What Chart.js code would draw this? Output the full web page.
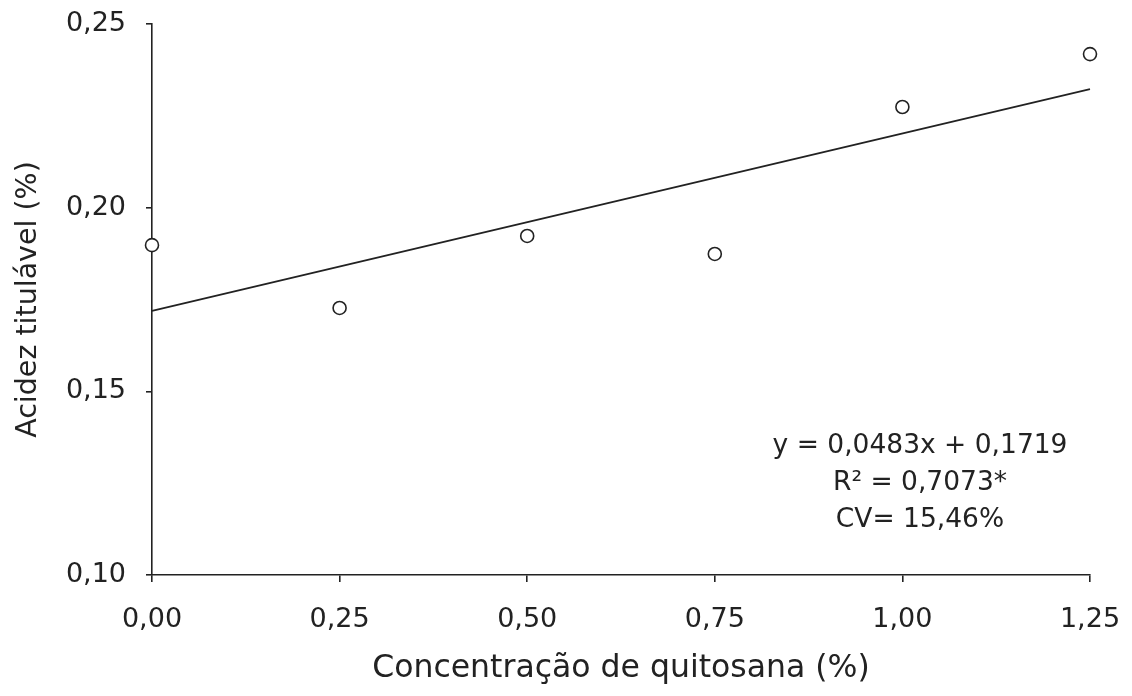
<!DOCTYPE html>
<html>
<head>
<meta charset="utf-8">
<script src="https://cdn.jsdelivr.net/npm/chart.js@4"></script>
<style>
  body { margin: 0; background: #fff; }
</style>
</head>
<body>
<canvas id="myChart" width="1132" height="696"></canvas>
<script>
  // doses de quitosana (%) e acidez titulavel observada (%)
  const concentracao = [0, 0.25, 0.5, 0.75, 1.0, 1.25];
  const acidez = [0.1898, 0.1727, 0.1923, 0.1874, 0.2274, 0.2418];

  // coeficientes da regressao linear
  const coefAngular = 0.0483;
  const intercepto = 0.1719;

  const textoEquacao = ['y = 0,0483x + 0,1719', 'R² = 0,7073*', 'CV= 15,46%'];

  const fonte = "'DejaVu Sans', sans-serif";

  // reta ajustada entre a menor e a maior dose
  const xMin = concentracao[0];
  const xMax = concentracao[concentracao.length - 1];
  const reta = [
    { x: xMin, y: coefAngular * xMin + intercepto },
    { x: xMax, y: coefAngular * xMax + intercepto }
  ];

  const pontos = concentracao.map((c, i) => ({ x: c, y: acidez[i] }));

  function virgula(v, casas) {
    return Number(v).toFixed(casas).replace('.', ',');
  }

  // escreve a equacao no canto inferior direito
  const equacaoPlugin = {
    id: 'equacao',
    afterDraw(chart) {
      const ctx = chart.ctx;
      ctx.save();
      ctx.fillStyle = '#222';
      ctx.font = '26.5px ' + fonte;
      ctx.textAlign = 'center';
      ctx.textBaseline = 'middle';
      textoEquacao.forEach((linha, i) => {
        ctx.fillText(linha, 920, 446 + i * 37);
      });
      ctx.restore();
    }
  };

  const ctx = document.getElementById('myChart').getContext('2d');
  const chart = new Chart(ctx, {
    type: 'scatter',
    data: {
      datasets: [
        {
          label: 'Observado',
          data: pontos,
          clip: false,
          pointStyle: 'circle',
          pointRadius: 6.5,
          pointBorderWidth: 1.6,
          pointBackgroundColor: '#fff',
          pointBorderColor: '#222'
        },
        {
          label: 'Ajuste',
          type: 'line',
          data: reta,
          clip: false,
          borderColor: '#222',
          borderWidth: 1.7,
          pointRadius: 0,
          fill: false
        }
      ]
    },
    options: {
      responsive: false,
      animation: false,
      layout: { padding: { top: 24, right: 42, left: 0, bottom: 0 } },
      plugins: {
        legend: { display: false },
        tooltip: { enabled: false }
      },
      scales: {
        x: {
          type: 'linear',
          min: 0,
          max: 1.25,
          afterFit(scale) {
            scale.height = 121;
            scale.paddingLeft = 0;
            scale.paddingRight = 0;
          },
          grid: { drawOnChartArea: false, drawTicks: true, tickLength: 7, color: '#222', lineWidth: 1.6 },
          border: { display: true, color: '#222', width: 1.6 },
          ticks: {
            stepSize: 0.25,
            padding: 22,
            color: '#222',
            font: { family: fonte, size: 27 },
            callback: v => virgula(v, 2)
          },
          title: {
            display: true,
            text: 'Concentração de quitosana (%)',
            color: '#222',
            font: { family: fonte, size: 31.5 },
            padding: { top: 4, bottom: 8 }
          }
        },
        y: {
          min: 0.10,
          max: 0.25,
          afterFit(scale) {
            scale.width = 152;
            scale.paddingTop = 0;
            scale.paddingBottom = 0;
          },
          grid: { drawOnChartArea: false, drawTicks: true, tickLength: 6, color: '#222', lineWidth: 1.6 },
          border: { display: true, color: '#222', width: 1.6 },
          ticks: {
            stepSize: 0.05,
            padding: 20,
            color: '#222',
            font: { family: fonte, size: 27 },
            callback: v => virgula(v, 2)
          },
          title: {
            display: true,
            text: 'Acidez titulável (%)',
            color: '#222',
            font: { family: fonte, size: 28.5 },
            padding: { top: 11, bottom: 0 }
          }
        }
      }
    },
    plugins: [equacaoPlugin]
  });
</script>
</body>
</html>
